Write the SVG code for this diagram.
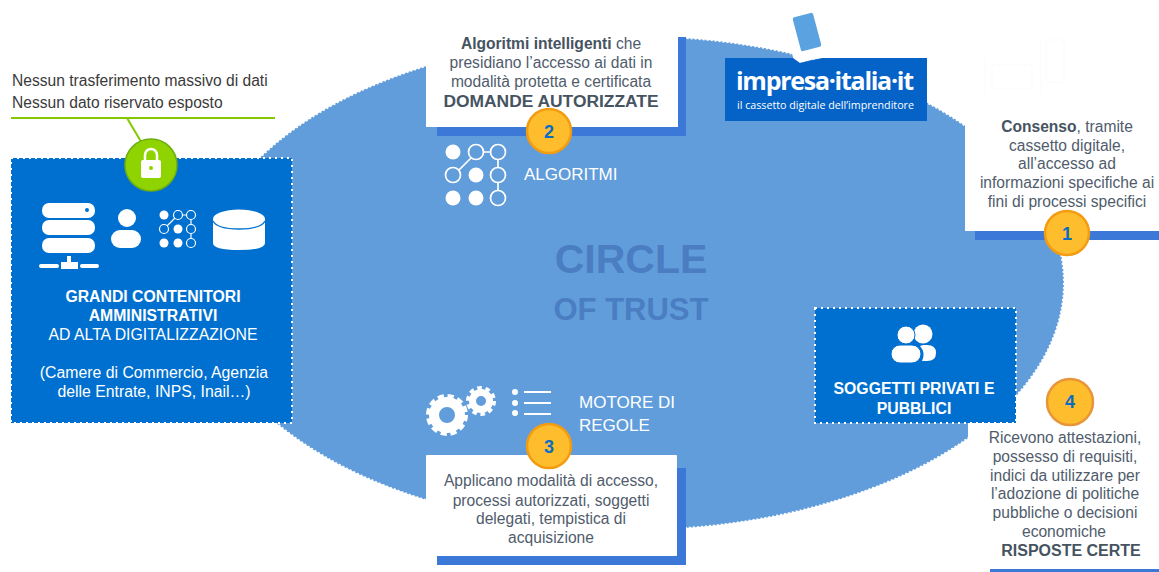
<svg xmlns="http://www.w3.org/2000/svg" width="1159" height="572" viewBox="0 0 1159 572">
<style>
text{font-family:"Liberation Sans",Arial,sans-serif}
.g{font-size:15.6px;fill:#505c6c;text-anchor:middle}
.gb{font-weight:700;fill:#465361}
.w{font-size:15.8px;fill:#fff;text-anchor:middle}
.wb{font-weight:700}
.l{font-size:17px;fill:#fff}
.bar{fill:#3c78d8}
.white{fill:#fff}
.box{fill:#0070d0;stroke:#fff;stroke-width:2;stroke-dasharray:2 4}
.num{fill:#fdbd2c;stroke:#f39c12;stroke-width:2.5}
.nt{font-size:18px;font-weight:700;fill:#0a6cc4;text-anchor:middle}
.ic{fill:#fff}
.ol{fill:none;stroke:#fff;stroke-width:1.7}
</style>
<ellipse id="circle" cx="632" cy="283" rx="432" ry="247" fill="#619ddb" stroke="#fff" stroke-width="2" stroke-dasharray="2 2"/>
<g id="title" font-weight="700" fill="#4a7dc2" text-anchor="middle">
<text x="631" y="273" font-size="41">CIRCLE</text>
<text x="631" y="320" font-size="31">OF TRUST</text>
</g>
<g id="connectors"><path d="M11 118H275M127 118L143 145" fill="none" stroke="#84c800" stroke-width="2"/></g>

<g id="node-contenitori">
<rect class="box" x="11" y="158" width="281" height="265"/>
<g class="ic">
<rect x="42" y="203" width="53" height="15" rx="7"/><rect x="42" y="220" width="53" height="15" rx="7"/><rect x="42" y="238" width="53" height="15" rx="7"/>
<rect x="67" y="256" width="4" height="6"/><rect x="61" y="262" width="17" height="7"/><rect x="39" y="264" width="20" height="4" rx="2"/><rect x="80" y="264" width="19" height="4" rx="2"/>
<circle cx="127" cy="218" r="9"/><rect x="111" y="230" width="30" height="18" rx="9"/>
<path d="M213 219a26 9.5 0 0 1 52 0v24q0 7-26 7t-26-7z"/>
</g>
<path d="M213 221q4 8 26 8t26-8" fill="none" stroke="#0070d0" stroke-width="1.3"/>
<circle cx="87" cy="210" r="2" fill="#0070d0"/>
<g class="ic"><circle cx="164" cy="215" r="4.5"/><circle cx="178" cy="229" r="4.5"/><circle cx="164" cy="243" r="4.5"/><circle cx="178" cy="243" r="4.5"/></g>
<g class="ol" style="stroke-width:1.2"><circle cx="178" cy="215" r="4.5"/><circle cx="191" cy="215" r="4.5"/><circle cx="164" cy="229" r="4.5"/><circle cx="191" cy="229" r="4.5"/><circle cx="191" cy="243" r="4.5"/><path d="M183 215h4M191 220v5M191 234v5M167 226l8-8"/></g>
<text class="w wb" x="153" y="302">GRANDI CONTENITORI</text>
<text class="w wb" x="153" y="321">AMMINISTRATIVI</text>
<text class="w" x="153" y="340">AD ALTA DIGITALIZZAZIONE</text>
<text class="w" x="154" y="378">(Camere di Commercio, Agenzia</text>
<text class="w" x="154" y="397">delle Entrate, INPS, Inail…)</text>
</g>

<g id="node-lock">
<circle cx="151" cy="165" r="26" fill="#8fd400" stroke="#6fae10" stroke-width="1.5"/>
<path d="M145 160v-5a6 6 0 0 1 12 0v5" fill="none" stroke="#fff" stroke-width="2.5"/>
<rect x="141" y="160" width="20" height="18" rx="2" fill="#fff"/><circle cx="151" cy="168" r="2" fill="#8fd400"/>
</g>
<text x="12" y="86" font-size="15.6" fill="#3a3a3a">Nessun trasferimento massivo di dati</text>
<text x="12" y="108" font-size="15.6" fill="#3a3a3a">Nessun dato riservato esposto</text>

<g id="node-algoritmi">
<path class="bar" d="M678 37h8v99H437v-9h241z"/>
<rect class="white" x="426" y="20" width="252" height="107"/>
<text class="g" x="551" y="49"><tspan class="gb">Algoritmi intelligenti</tspan> che</text>
<text class="g" x="551" y="68">presidiano l’accesso ai dati in</text>
<text class="g" x="551" y="87">modalità protetta e certificata</text>
<text class="g gb" x="551" y="107" style="font-size:17.4px">DOMANDE AUTORIZZATE</text>
<circle class="num" cx="549" cy="131" r="22"/><text class="nt" x="549" y="138">2</text>
<g class="ic"><circle cx="453" cy="152" r="7.5"/><circle cx="476" cy="175" r="7.5"/><circle cx="453" cy="198" r="7.5"/><circle cx="476" cy="198" r="7.5"/></g>
<g class="ol"><circle cx="476" cy="152" r="7.5"/><circle cx="498" cy="152" r="7.5"/><circle cx="453" cy="175" r="7.5"/><circle cx="498" cy="175" r="7.5"/><circle cx="498" cy="198" r="7.5"/><path d="M484 152h6M498 160v7M498 183v7M459 170l12-12"/></g>
<text class="l" x="524" y="180">ALGORITMI</text>
</g>

<g id="node-impresa">
<rect x="787" y="7" width="41" height="53" rx="5" transform="rotate(-15 807 32)" fill="#fff"/>
<rect x="796.5" y="14.5" width="21" height="35" rx="2" transform="rotate(-15 807 32)" fill="#5ba3e0"/>
<path d="M725 58h68l7 5 22-5h105v63H725z" fill="#0563c8"/>
<text x="736" y="90" font-size="25" font-weight="700" fill="#fff" style="font-family:'Open Sans',sans-serif" textLength="178" lengthAdjust="spacing">impresa·italia·it</text>
<text x="737" y="109" font-size="11" fill="#fff" style="font-family:'Open Sans',sans-serif" textLength="177" lengthAdjust="spacingAndGlyphs">il cassetto digitale dell’imprenditore</text>
</g>

<g id="node-consenso">
<rect class="white" x="965" y="30" width="194" height="201"/>
<rect class="bar" x="975" y="231" width="184" height="9"/>
<g fill="none" stroke="#fbfbfb"><path d="M985 55v43M992 65h40v24h-40zM1041 37v62M1046 40h18v42h-18z"/></g>
<text class="g" x="1067" y="132"><tspan class="gb">Consenso</tspan>, tramite</text>
<text class="g" x="1067" y="151">cassetto digitale,</text>
<text class="g" x="1067" y="169">all’accesso ad</text>
<text class="g" x="1067" y="188">informazioni specifiche ai</text>
<text class="g" x="1067" y="207">fini di processi specifici</text>
<circle class="num" cx="1067" cy="233" r="22"/><text class="nt" x="1067" y="240">1</text>
</g>

<g id="node-motore">
<path class="bar" d="M437 468h249v97H437z"/>
<rect class="white" x="426" y="455" width="251" height="101" rx="1"/>
<text class="g" x="551" y="486">Applicano modalità di accesso,</text>
<text class="g" x="551" y="506">processi autorizzati, soggetti</text>
<text class="g" x="551" y="524">delegati, tempistica di</text>
<text class="g" x="551" y="543">acquisizione</text>
<circle class="num" cx="549" cy="446" r="22"/><text class="nt" x="549" y="453">3</text>
<g fill="none" stroke="#fff"><circle cx="447" cy="415" r="13" stroke-width="10"/><circle cx="447" cy="415" r="18.5" stroke-width="5" stroke-dasharray="6 3.69"/><circle cx="481" cy="401" r="8.5" stroke-width="7"/><circle cx="481" cy="401" r="13" stroke-width="4" stroke-dasharray="4.5 3.67"/></g>
<g class="ic"><circle cx="515" cy="392" r="3"/><circle cx="515" cy="403" r="3"/><circle cx="515" cy="413" r="3"/><rect x="524" y="391" width="27" height="2"/><rect x="524" y="402" width="27" height="2"/><rect x="524" y="413" width="27" height="2"/></g>
<text class="l" x="579" y="408">MOTORE DI</text>
<text class="l" x="579" y="431">REGOLE</text>
</g>

<g id="node-risposte">
<rect class="white" x="968" y="423" width="191" height="149"/>
<rect class="bar" x="990" y="569" width="169" height="3"/>
<circle class="num" cx="1070" cy="402" r="23" style="stroke:#e8953a"/><text class="nt" x="1070" y="408">4</text>
<text class="g" x="1065" y="443">Ricevono attestazioni,</text>
<text class="g" x="1065" y="462">possesso di requisiti,</text>
<text class="g" x="1065" y="481">indici da utilizzare per</text>
<text class="g" x="1065" y="499">l’adozione di politiche</text>
<text class="g" x="1065" y="518">pubbliche o decisioni</text>
<text class="g" x="1064" y="537">economiche</text>
<text class="g gb" x="1071" y="556" style="font-size:16px">RISPOSTE CERTE</text>
</g>

<g id="node-soggetti">
<rect class="box" x="815" y="308" width="201" height="115"/>
<g class="ic"><circle cx="923" cy="334" r="9.5"/><path d="M923 345h4q9 0 9 8t-9 8h-5q4-8-2-15z"/></g>
<circle cx="906" cy="335" r="9" fill="#fff" stroke="#0070d0" stroke-width="1"/><rect x="891" y="345" width="30" height="18" rx="9" fill="#fff" stroke="#0070d0" stroke-width="1"/>
<text class="w wb" x="914" y="394">SOGGETTI PRIVATI E</text>
<text class="w wb" x="914" y="414">PUBBLICI</text>
</g>
</svg>
